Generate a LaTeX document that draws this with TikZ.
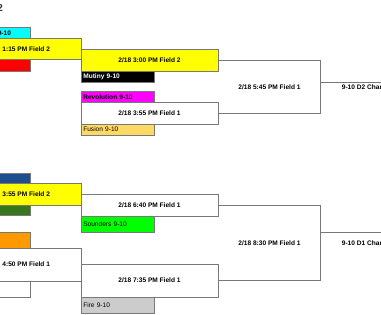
\documentclass[tikz,border=0pt]{standalone}
\usepackage{fontspec}
\setmainfont{Liberation Sans}
\usetikzlibrary{positioning}
\definecolor{cellline}{RGB}{120,120,120}
\definecolor{cellyellow}{RGB}{255,255,0}
\definecolor{cellcyan}{RGB}{0,255,255}
\definecolor{cellred}{RGB}{255,0,0}
\definecolor{cellmagenta}{RGB}{255,0,255}
\definecolor{cellpeach}{RGB}{255,217,102}
\definecolor{cellnavy}{RGB}{31,78,140}
\definecolor{cellforest}{RGB}{56,118,29}
\definecolor{cellorange}{RGB}{255,153,0}
\definecolor{cellgreen}{RGB}{0,255,0}
\definecolor{cellsilver}{RGB}{204,204,204}
\tikzset{
  cell/.style={draw=cellline, line width=0.8pt, inner sep=0pt, outer sep=0pt},
  game/.style={cell, fill=white, minimum width=137bp, minimum height=22bp,
               font=\fontsize{6.6}{8}\selectfont\bfseries},
  lgame/.style={game, minimum width=0pt, inner xsep=31bp, anchor=north east},
  team/.style={cell, minimum width=73bp, minimum height=11bp, text width=68.4bp,
               align=left, inner xsep=2.3bp, font=\fontsize{6.6}{8}\selectfont},
  lteam/.style={cell, minimum width=60bp, minimum height=11bp, inner xsep=21bp,
               font=\fontsize{6.6}{8}\selectfont\bfseries},
  final/.style={inner sep=0pt, font=\fontsize{6.6}{8}\selectfont\bfseries},
  champ/.style={inner sep=0pt, inner xsep=21bp, minimum width=80bp, anchor=north west,
               font=\fontsize{6.6}{8}\selectfont\bfseries},
  bracket/.style={draw=cellline, line width=0.8pt},
}
\begin{document}
\begin{tikzpicture}[x=1bp, y=-1bp]
    \useasboundingbox (0,0) rectangle (381,315);
    \node[anchor=east, inner sep=0pt, font=\fontsize{10}{12}\selectfont\bfseries, text=black!80] (ttl) at (3,8.5) {2};
    % D2 side
    \node[lgame, fill=cellyellow, minimum height=21bp] (g1) at (81,38.3) {1:15 PM Field 2};
    \node[lteam, fill=cellcyan, anchor=south east, minimum width=0pt, inner xsep=19bp] (t1) at (30,38.3) {9-10};
    \node[lteam, fill=cellred, anchor=north east, minimum height=11.7bp] (t2) at (30,59.3) {};
    \node[game, fill=cellyellow, anchor=north west] (g3) at (81,49) {2/18 3:00 PM Field 2};
    \node[team, fill=black, text=white, font=\fontsize{6.6}{8}\selectfont\bfseries, below=0pt of g3.south west, anchor=north west] (t3) {Mutiny 9-10};
    \node[game, anchor=north west] (g4) at (81,102) {2/18 3:55 PM Field 1};
    \node[team, fill=cellmagenta, font=\fontsize{6.6}{8}\selectfont\bfseries, minimum height=10.5bp, above=0pt of g4.north west, anchor=south west] (t4) {Revolution 9-10};
    \node[team, fill=cellpeach, below=0pt of g4.south west, anchor=north west] (t5) {Fusion 9-10};
    \node[final] (g5) at (269.5,87) {2/18 5:45 PM Field 1};
    \node[champ, minimum height=10bp] (c2) at (320.7,82) {9-10 D2 Char};
    \draw[bracket] (g3.east) -| (c2.west |- g4.east) -- (g4.east);
    \draw[bracket] (c2.north west) -- (c2.north east);
    % D1 side
    \node[lteam, fill=cellnavy, anchor=south east, minimum height=9.5bp] (t6) at (30,183) {};
    \node[lgame, fill=cellyellow, minimum height=22.7bp] (g6) at (81,183) {3:55 PM Field 2};
    \node[lteam, fill=cellforest, anchor=north east, minimum height=10bp] (t7) at (30,205.7) {};
    \node[lteam, fill=cellorange, anchor=south east, minimum height=16bp] (t8) at (30,248) {};
    \node[lgame, minimum height=33bp] (g7) at (81,248) {4:50 PM Field 1};
    \node[lteam, fill=white, anchor=north east, minimum height=16bp] (t9) at (30,281) {};
    \node[game, anchor=north west] (g8) at (81,194) {2/18 6:40 PM Field 1};
    \node[team, fill=cellgreen, minimum height=16bp, below=0pt of g8.south west, anchor=north west] (t10) {Sounders 9-10};
    \node[game, anchor=north west, minimum height=33bp] (g9) at (81,264) {2/18 7:35 PM Field 1};
    \node[team, fill=cellsilver, minimum height=16bp, below=0pt of g9.south west, anchor=north west] (t11) {Fire 9-10};
    \node[final] (g10) at (269.5,243) {2/18 8:30 PM Field 1};
    \node[champ, minimum height=22bp] (c1) at (320.7,232) {9-10 D1 Char};
    \draw[bracket] (g8.east) -| (c1.west |- g9.east) -- (g9.east);
    \draw[bracket] (c1.north west) -- (c1.north east);
\end{tikzpicture}
\end{document}
